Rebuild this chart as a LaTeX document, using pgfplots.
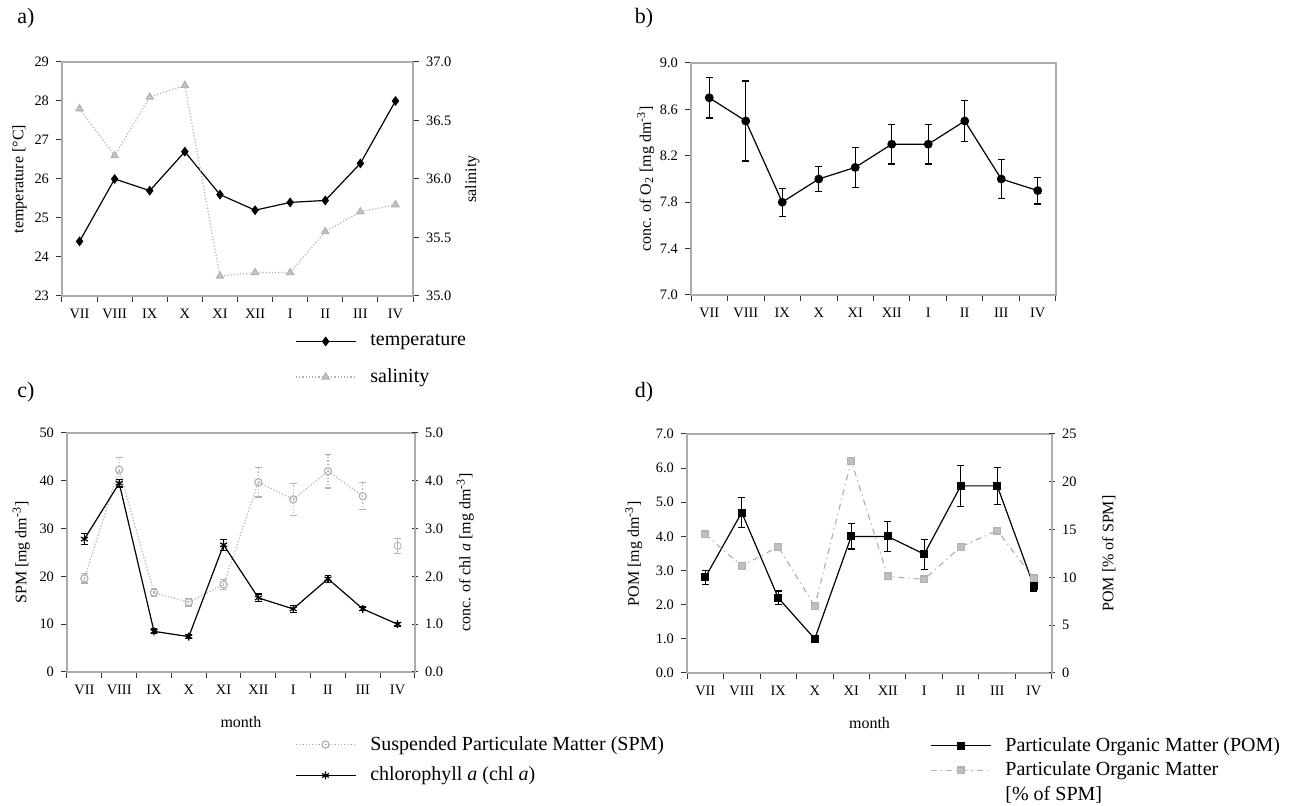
\documentclass[border=0pt]{standalone}
\usepackage{fontspec}
\setmainfont{Liberation Serif}
\usepackage{pgfplots}
\pgfplotsset{compat=1.18}

% common look of the four panels (1 px of the reference = 0.5pt)
\pgfplotsset{
  months/.style={
    scale only axis,
    xmin=-0.5, xmax=9.5,
    xtick={0,...,9},
    xticklabels={VII,VIII,IX,X,XI,XII,I,II,III,IV},
    minor xtick={-0.5,0.5,...,9.5},
    major x tick style={draw=none},
    xtick pos=bottom, ytick pos=left,
    tick align=outside,
    major tick length=3pt, minor tick length=3pt,
    axis line style={gray!65, line width=0.6pt},
    every tick/.style={gray!40!black, line width=0.5pt},
    tick label style={font=\fontsize{7.2}{8}\selectfont},
    label style={font=\fontsize{8}{9}\selectfont},
    /pgf/number format/assume math mode=true,
    legend style={draw=none, fill=none, inner sep=0pt,
      font=\fontsize{10}{12}\selectfont, cells={anchor=west, align=left},
      row sep=3pt, /tikz/every odd column/.append style={column sep=5pt}},
    legend cell align=left,
    legend image code/.code={\draw[mark repeat=2,mark phase=2,##1]
      plot coordinates {(0cm,0cm) (0.52cm,0cm) (1.05cm,0cm)};},
  },
  rightaxis/.style={months, axis y line*=right, axis x line=none, ytick pos=right},
  onedec/.style={yticklabel style={/pgf/number format/.cd, fixed, fixed zerofill, precision=1}},
  blackline/.style={black, line width=0.6pt},
  greyline/.style={gray!60, line width=0.6pt},
  ebars/.style={error bars/.cd, y dir=both, y explicit,
    error bar style={#1, line width=0.6pt},
    error mark options={rotate=90, mark size=1.7pt, #1, line width=0.6pt}},
}

\begin{document}
\begin{tikzpicture}
\useasboundingbox (0pt,0pt) rectangle (646pt,-403pt);

% panel letters
\node[font=\fontsize{11}{12}\selectfont] at (13pt,-9pt) {a)};
\node[font=\fontsize{11}{12}\selectfont] at (322pt,-9pt) {b)};
\node[font=\fontsize{11}{12}\selectfont] at (13pt,-196pt) {c)};
\node[font=\fontsize{11}{12}\selectfont] at (322pt,-196pt) {d)};

% ---------------- a) temperature and salinity
\begin{axis}[months, at={(31pt,-31pt)}, anchor=north west,
  width=175.5pt, height=117pt,
  ymin=23, ymax=29, ytick={23,...,29},
  ylabel={temperature [°C]}, ylabel shift=-3pt]
\addplot[blackline, mark=diamond*, mark size=2pt]
  coordinates {(0,24.4)(1,26.0)(2,25.7)(3,26.7)(4,25.6)(5,25.2)(6,25.4)(7,25.45)(8,26.4)(9,28.0)};
\end{axis}
\begin{axis}[rightaxis, onedec, at={(31pt,-31pt)}, anchor=north west,
  width=175.5pt, height=117pt,
  ymin=35, ymax=37, ytick={35,35.5,...,37},
  ylabel={salinity},
  legend style={at={(0.664,-0.145)}, anchor=north west, row sep=6pt}]
\addlegendimage{blackline, mark=diamond*, mark size=2pt}
\addlegendentry{temperature}
\addplot[greyline, densely dotted, mark=triangle*, mark size=2pt,
  mark options={solid, fill=gray!45, draw=gray!60}]
  coordinates {(0,36.6)(1,36.2)(2,36.7)(3,36.8)(4,35.17)(5,35.2)(6,35.2)(7,35.55)(8,35.72)(9,35.78)};
\addlegendentry{salinity}
\end{axis}

% ---------------- b) oxygen
\begin{axis}[months, onedec, at={(345.5pt,-31.5pt)}, anchor=north west,
  width=182.5pt, height=116pt,
  ymin=7, ymax=9, ytick={7,7.4,...,9.01},
  ylabel={conc. of O\textsubscript{2} [mg dm\textsuperscript{-3}]}, ylabel shift=-4pt]
\addplot[blackline, mark=*, mark size=1.9pt, ebars=black]
  coordinates {(0,8.7) +- (0,0.175) (1,8.5) +- (0,0.345) (2,7.8) +- (0,0.12)
               (3,8.0) +- (0,0.11) (4,8.1) +- (0,0.17) (5,8.3) +- (0,0.17)
               (6,8.3) +- (0,0.17) (7,8.5) +- (0,0.175) (8,8.0) +- (0,0.17)
               (9,7.9) +- (0,0.115)};
\end{axis}

% ---------------- c) SPM and chlorophyll a
\begin{axis}[months, at={(33.5pt,-216.5pt)}, anchor=north west,
  width=174pt, height=119.5pt,
  ymin=0, ymax=50, ytick={0,10,...,50},
  ylabel={SPM [mg dm\textsuperscript{-3}]}, ylabel shift=-2pt,
  xlabel={month}, xlabel style={yshift=-4pt}]
\addplot[greyline, densely dotted, mark=o, mark size=1.8pt,
  mark options={solid, gray!60}, ebars=gray!60]
  coordinates {(0,19.6) +- (0,1.0) (1,42.3) +- (0,2.6) (2,16.6) +- (0,0.8)
               (3,14.6) +- (0,0.8) (4,18.3) +- (0,1.1) (5,39.7) +- (0,3.1)
               (6,36.1) +- (0,3.3) (7,42.0) +- (0,3.5) (8,36.8) +- (0,2.8)};
\addplot[only marks, mark=o, mark size=1.8pt, mark options={gray!60}, ebars=gray!60]
  coordinates {(9,26.4) +- (0,1.6)};
\end{axis}
\begin{axis}[rightaxis, onedec, at={(33.5pt,-216.5pt)}, anchor=north west,
  width=174pt, height=119.5pt, tick align=center,
  ymin=0, ymax=5, ytick={0,1,...,5},
  ylabel={conc. of chl \textit{a}  [mg dm\textsuperscript{-3}]},
  legend style={at={(0.655,-0.25)}, anchor=north west}]
\addlegendimage{greyline, densely dotted, mark=o, mark size=1.8pt, mark options={solid, gray!60}}
\addlegendentry{Suspended Particulate Matter (SPM)}
\addplot[blackline, mark=asterisk, mark size=2pt, mark options={solid, black}, ebars=black]
  coordinates {(0,2.78) +- (0,0.12) (1,3.95) +- (0,0.08) (2,0.85) +- (0,0.05)
               (3,0.74) +- (0,0.04) (4,2.66) +- (0,0.12) (5,1.55) +- (0,0.08)
               (6,1.32) +- (0,0.07) (7,1.95) +- (0,0.07) (8,1.32) +- (0,0.04)
               (9,1.0) +- (0,0.04)};
\addlegendentry{chlorophyll \textit{a} (chl \textit{a})}
\end{axis}

% ---------------- d) POM
\begin{axis}[months, onedec, at={(343.5pt,-217pt)}, anchor=north west,
  width=182.5pt, height=119.5pt,
  ymin=0, ymax=7, ytick={0,1,...,7},
  ylabel={POM [mg dm\textsuperscript{-3}]},
  xlabel={month}, xlabel style={yshift=-4pt}]
\addplot[blackline, mark=square*, mark size=1.7pt, ebars=black]
  coordinates {(0,2.8) +- (0,0.2) (1,4.7) +- (0,0.45) (2,2.2) +- (0,0.2)
               (3,1.0) +- (0,0.03) (4,4.0) +- (0,0.37) (5,4.0) +- (0,0.44)
               (6,3.48) +- (0,0.44) (7,5.48) +- (0,0.6) (8,5.48) +- (0,0.55)
               (9,2.55) +- (0,0.15)};
\end{axis}
\begin{axis}[rightaxis, at={(343.5pt,-217pt)}, anchor=north west,
  width=182.5pt, height=119.5pt, tick align=center,
  ymin=0, ymax=25, ytick={0,5,...,25},
  ylabel={POM [\% of SPM]}, ylabel shift=6pt,
  legend style={at={(0.666,-0.25)}, anchor=north west, row sep=0pt}]
\addlegendimage{blackline, mark=square*, mark size=1.7pt}
\addlegendentry{Particulate Organic Matter (POM)}
\addplot[greyline, dash dot, mark=square*, mark size=1.7pt,
  mark options={solid, fill=gray!50, draw=gray!60}]
  coordinates {(0,14.5)(1,11.2)(2,13.2)(3,7.0)(4,22.2)(5,10.1)(6,9.8)(7,13.2)(8,14.9)(9,9.9)};
\addlegendentry{Particulate Organic Matter}
\addlegendimage{empty legend}
\addlegendentry{[\% of SPM]}
\end{axis}
\end{tikzpicture}
\end{document}
